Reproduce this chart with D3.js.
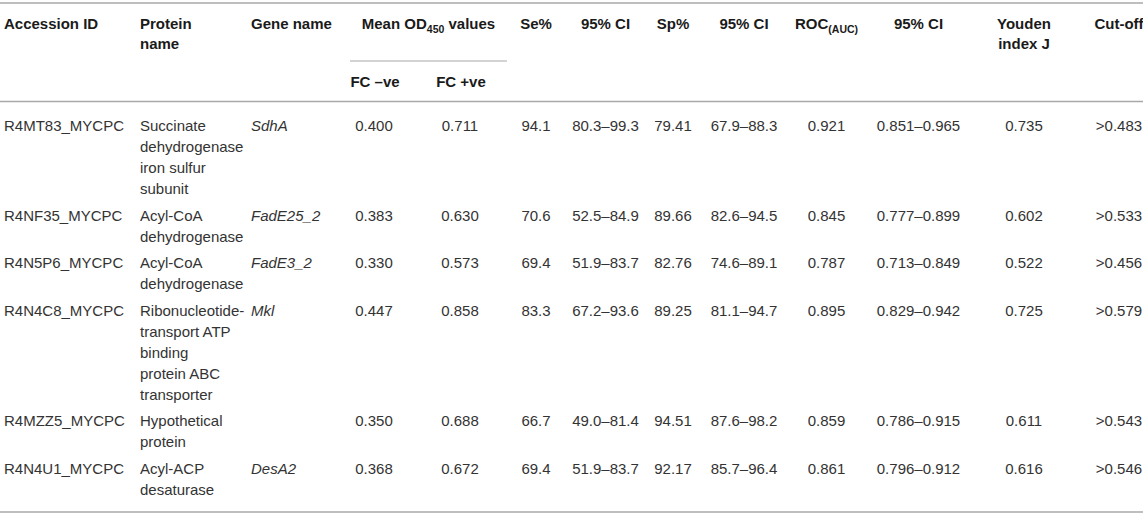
<!DOCTYPE html>
<html>
<head>
<meta charset="utf-8">
<script src="https://cdn.jsdelivr.net/npm/d3@7"></script>
<style>
  body { margin: 0; background: #fff; }
  svg { display: block; font-family: "Liberation Sans", Arial, sans-serif; }
</style>
</head>
<body>
<div id="table"></div>
<script>
// table values
const accessionIds = ['R4MT83_MYCPC', 'R4NF35_MYCPC', 'R4N5P6_MYCPC', 'R4N4C8_MYCPC', 'R4MZZ5_MYCPC', 'R4N4U1_MYCPC'];
const proteinNames = [
  'Succinate\ndehydrogenase\niron sulfur\nsubunit',
  'Acyl-CoA\ndehydrogenase',
  'Acyl-CoA\ndehydrogenase',
  'Ribonucleotide-\ntransport ATP\nbinding\nprotein ABC\ntransporter',
  'Hypothetical\nprotein',
  'Acyl-ACP\ndesaturase'
];
const geneNames = ['SdhA', 'FadE25_2', 'FadE3_2', 'Mkl', '', 'DesA2'];
const fcNeg = [0.400, 0.383, 0.330, 0.447, 0.350, 0.368];
const fcPos = [0.711, 0.630, 0.573, 0.858, 0.688, 0.672];
const sePct = [94.1, 70.6, 69.4, 83.3, 66.7, 69.4];
const seCI = ['80.3–99.3', '52.5–84.9', '51.9–83.7', '67.2–93.6', '49.0–81.4', '51.9–83.7'];
const spPct = [79.41, 89.66, 82.76, 89.25, 94.51, 92.17];
const spCI = ['67.9–88.3', '82.6–94.5', '74.6–89.1', '81.1–94.7', '87.6–98.2', '85.7–96.4'];
const rocAuc = [0.921, 0.845, 0.787, 0.895, 0.859, 0.861];
const rocCI = ['0.851–0.965', '0.777–0.899', '0.713–0.849', '0.829–0.942', '0.786–0.915', '0.796–0.912'];
const youdenJ = [0.735, 0.602, 0.522, 0.725, 0.611, 0.616];
const cutOff = ['>0.483', '>0.533', '>0.456', '>0.579', '>0.543', '>0.546'];

// header labels, parts with sub: true are subscripts
const headerLabels = [
  [[{t: 'Accession ID'}]],
  [[{t: 'Protein'}], [{t: 'name'}]],
  [[{t: 'Gene name'}]],
  null,
  null,
  [[{t: 'Se%'}]],
  [[{t: '95% CI'}]],
  [[{t: 'Sp%'}]],
  [[{t: '95% CI'}]],
  [[{t: 'ROC'}, {t: '(AUC)', sub: true}]],
  [[{t: '95% CI'}]],
  [[{t: 'Youden'}], [{t: 'index J'}]],
  [[{t: 'Cut-off'}]]
];
const groupLabel = [{t: 'Mean OD'}, {t: '450', sub: true}, {t: ' values'}];
const subLabels = ['FC –ve', 'FC +ve'];

const width = 1143;
const height = 515;
const fontSize = 15;
const lineH = 21;
const rowPad = 5.5;

const f1 = d3.format('.1f'), f2 = d3.format('.2f'), f3 = d3.format('.3f');

// column layout: x position and anchor
const columns = [
  {key: 'acc', x: 4, anchor: 'start'},
  {key: 'prot', x: 140, anchor: 'start'},
  {key: 'gene', x: 251, anchor: 'start'},
  {key: 'fcn', x: 374, anchor: 'middle'},
  {key: 'fcp', x: 460, anchor: 'middle'},
  {key: 'se', x: 536, anchor: 'middle'},
  {key: 'seci', x: 605.5, anchor: 'middle'},
  {key: 'sp', x: 673, anchor: 'middle'},
  {key: 'spci', x: 744, anchor: 'middle'},
  {key: 'roc', x: 826.5, anchor: 'middle'},
  {key: 'rocci', x: 918.5, anchor: 'middle'},
  {key: 'you', x: 1024, anchor: 'middle'},
  {key: 'cut', x: 1119, anchor: 'middle'}
];
const colX = d3.scaleOrdinal().domain(columns.map(c => c.key)).range(columns.map(c => c.x));

const rows = accessionIds.map((id, i) => ({
  cells: [
    {v: id}, {v: proteinNames[i]}, {v: geneNames[i], italic: true},
    {v: f3(fcNeg[i])}, {v: f3(fcPos[i])},
    {v: f1(sePct[i])}, {v: seCI[i]},
    {v: f2(spPct[i])}, {v: spCI[i]},
    {v: f3(rocAuc[i])}, {v: rocCI[i]},
    {v: f3(youdenJ[i])}, {v: cutOff[i]}
  ]
}));
rows.forEach(r => {
  r.lines = d3.max(r.cells, c => c.v.split('\n').length);
  r.h = r.lines * lineH + rowPad;
});

// vertical positions
const topRule = 3, headBase1 = 28.5, subRule = 61, subBase = 87, headRule = 101.5;
const bodyTop = headRule + 12.5;
const tops = [bodyTop, ...d3.cumsum(rows, r => r.h).map(s => bodyTop + s)];
const rowY = d3.scaleOrdinal().domain(d3.range(rows.length)).range(tops);
const bottomRule = tops[rows.length] + 8;

const svg = d3.select('#table').append('svg')
  .attr('width', width)
  .attr('height', height)
  .style('font-size', fontSize + 'px');

function writeParts(text, parts) {
  parts.forEach(p => {
    const ts = text.append('tspan').text(p.t);
    if (p.sub) ts.attr('dy', 4).style('font-size', '10.5px');
    else if (text.property('_sub')) ts.attr('dy', -4);
    text.property('_sub', !!p.sub);
  });
}

// rules
const rules = svg.append('g').attr('stroke', '#a8a8a8').attr('stroke-width', 1.5);
[topRule, headRule, bottomRule].forEach(y => {
  rules.append('line').attr('x1', 0).attr('x2', width).attr('y1', y).attr('y2', y);
});
rules.append('line').attr('x1', 350).attr('x2', 507).attr('y1', subRule).attr('y2', subRule)
  .attr('stroke-width', 1.2);

// header
const head = svg.append('g').attr('font-weight', 'bold').attr('fill', '#1a1a1a');
headerLabels.forEach((lines, ci) => {
  if (!lines) return;
  const col = columns[ci];
  lines.forEach((parts, li) => {
    const t = head.append('text')
      .attr('x', colX(col.key))
      .attr('y', headBase1 + li * 20)
      .attr('text-anchor', col.anchor);
    writeParts(t, parts);
  });
});
const gt = head.append('text').attr('x', (350 + 507) / 2).attr('y', headBase1).attr('text-anchor', 'middle');
writeParts(gt, groupLabel);
subLabels.forEach((s, i) => {
  head.append('text')
    .attr('x', colX(columns[3 + i].key) + 1)
    .attr('y', subBase)
    .attr('text-anchor', 'middle')
    .text(s);
});

// body
const body = svg.append('g').attr('fill', '#333');
const rowG = body.selectAll('g.row')
  .data(rows)
  .join('g')
  .attr('class', 'row')
  .attr('transform', (d, i) => `translate(0, ${rowY(i) + 17})`);

rowG.selectAll('text')
  .data(d => d.cells.map((c, ci) => ({...c, col: columns[ci]})))
  .join('text')
  .attr('x', d => colX(d.col.key))
  .attr('text-anchor', d => d.col.anchor)
  .attr('font-style', d => d.italic ? 'italic' : null)
  .each(function(d) {
    d3.select(this).selectAll('tspan')
      .data(d.v.split('\n'))
      .join('tspan')
      .attr('x', colX(d.col.key))
      .attr('y', (l, li) => li * lineH)
      .text(l => l);
  });
</script>
</body>
</html>
